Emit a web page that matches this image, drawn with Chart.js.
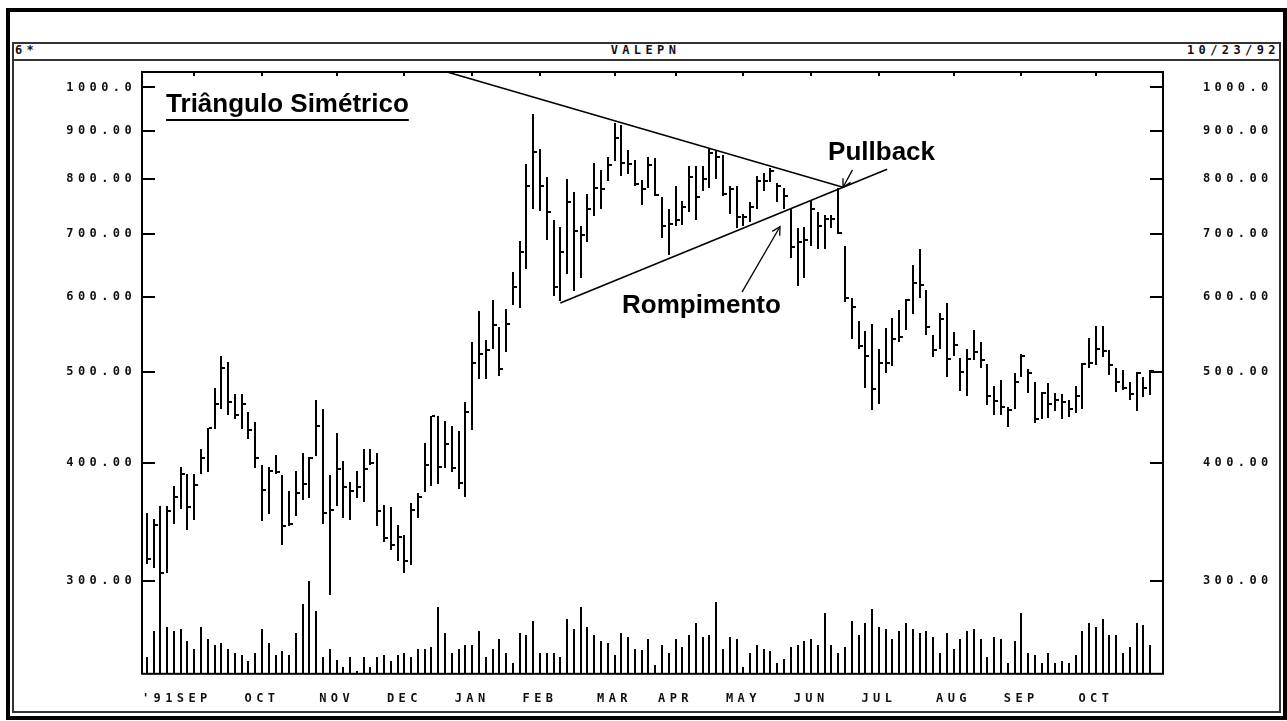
<!DOCTYPE html>
<html lang="pt">
<head>
<meta charset="utf-8">
<title>VALEPN</title>
<script src="https://cdn.jsdelivr.net/npm/chart.js@4.4.1/dist/chart.umd.min.js"></script>
<style>
html,body{margin:0;padding:0;background:#fff;}
#wrap{position:relative;width:1287px;height:721px;overflow:hidden;background:#fff;}
#outer{position:absolute;left:6px;top:8px;width:1281px;height:712px;box-sizing:border-box;border:4px solid #000;}
#inner{position:absolute;left:12px;top:42px;width:1269px;height:671px;box-sizing:border-box;border:2px solid #333;}
#hdrline{position:absolute;left:12px;top:59px;width:1269px;height:0;border-top:2px solid #333;}
.ht{position:absolute;top:44px;font:bold 12px 'DejaVu Sans Mono','Liberation Mono',monospace;letter-spacing:4.4px;color:#111;line-height:12px;white-space:pre;}
#h1{left:15px;}
#h2{left:0;width:1291px;text-align:center;}
#h3{right:7px;}
canvas{position:absolute;left:0;top:0;}
</style>
</head>
<body>
<div id="wrap">
  <div id="outer"></div>
  <div id="inner"></div>
  <div id="hdrline"></div>
  <div class="ht" id="h1">6*</div>
  <div class="ht" id="h2">VALEPN</div>
  <div class="ht" id="h3">10/23/92</div>
  <canvas id="c" width="1287" height="721"></canvas>
</div>
<script>
// ---------------- data ----------------
const months = ["'91SEP","OCT","NOV","DEC","JAN","FEB","MAR","APR","MAY","JUN","JUL","AUG","SEP","OCT"];
const monthStart = [7,17,28,38,48,58,69,78,88,98,108,119,129,140];
const priceTicks = [300,400,500,600,700,800,900,1000];

const highs = [354,349,360,360,378,396,390,390,414,436,481,519,512,474,474,453,442,398,396,408,
  389,374,392,410,406,467,456,389,430,402,382,392,414,414,410,361,359,344,336,363,
  372,420,449,449,443,438,433,464,537,580,540,595,557,583,637,687,830,938,860,803,
  724,711,799,775,714,771,832,817,845,917,913,858,838,798,845,842,765,744,786,759,
  826,826,826,860,856,849,786,786,735,756,806,812,822,793,783,744,709,711,759,738,
  732,732,783,680,598,566,552,561,528,556,570,581,597,649,674,610,547,577,591,551,
  517,529,553,538,509,483,490,459,498,522,503,488,476,486,475,474,467,483,511,543,
  559,559,527,504,502,487,499,494,502];
const lows = [313,310,300,306,345,358,340,348,390,391,435,457,450,446,435,424,395,347,353,390,
  328,343,352,366,367,407,345,290,360,350,348,367,364,398,343,330,324,315,306,312,
  350,373,378,380,395,391,376,368,434,491,491,528,495,525,588,584,643,744,740,689,
  601,594,634,608,628,686,730,744,796,836,805,809,786,751,782,767,692,664,714,715,
  738,723,777,783,799,768,735,709,714,720,744,777,794,756,744,659,616,628,680,675,
  675,709,700,593,541,528,481,455,462,498,507,537,553,576,598,547,518,528,493,520,
  477,471,514,505,461,450,450,437,456,493,475,441,445,447,454,445,448,452,456,505,
  508,518,496,476,478,467,454,470,472];
const closes = [317,344,306,356,368,390,359,379,405,436,462,504,464,450,462,434,405,375,392,391,
  343,345,372,380,405,438,354,357,394,377,374,377,394,400,356,333,328,334,315,357,
  368,398,449,396,419,395,381,453,511,522,527,560,503,561,614,670,787,854,786,738,
  614,670,756,705,697,744,782,780,828,883,832,829,790,780,827,769,714,717,723,748,
  803,765,799,852,845,771,780,729,729,747,796,796,816,787,768,678,686,689,744,714,
  726,726,701,598,586,532,520,479,511,511,541,544,596,620,618,557,527,569,516,534,
  499,516,524,514,471,466,459,455,487,520,498,446,475,462,467,464,457,471,510,511,
  529,526,508,487,480,474,498,480,501];
const volume = [1.7,4.3,9.6,4.7,4.3,4.5,3.3,2.5,4.7,3.5,2.9,3.1,2.5,2.1,1.9,1.3,2.1,4.5,3.1,1.9,
  2.3,1.9,4.1,7.1,9.4,6.3,1.7,2.5,1.4,0.7,1.7,0.3,1.7,0.7,1.7,1.9,1.3,1.9,2.1,1.7,
  2.5,2.5,2.7,6.7,4.1,2.1,2.5,2.9,2.9,4.3,1.7,2.5,3.5,2.1,1.1,4.1,3.9,5.3,2.1,2.1,
  2.1,1.7,5.5,4.5,6.7,4.7,3.9,3.3,3.1,1.9,4.1,3.7,2.5,2.4,3.5,0.9,2.9,2.1,3.5,2.7,
  3.9,5.1,3.7,3.9,7.3,2.5,3.7,3.5,0.7,2.1,2.9,2.5,2.3,1.1,1.5,2.7,2.9,3.3,3.5,2.9,
  6.1,2.9,2.1,2.7,5.3,3.9,5.1,6.5,4.7,4.5,3.5,4.3,5.1,4.5,4.1,4.3,3.7,2.1,4.1,2.5,
  3.5,4.3,4.5,3.5,1.7,3.7,3.5,1.1,3.3,6.1,2.1,1.9,1.1,2.1,1.1,1.3,1.1,1.9,4.3,5.1,
  4.7,5.5,3.9,3.9,2.1,2.7,5.1,4.9,2.9];

// trend lines (bar index, price)
const upperTrendX = [44.3, 102.7];
const upperTrendY = [1038.4, 784];
const lowerTrendX = [61, 109.2];
const lowerTrendY = [591, 819];

// annotations anchored in data space (bar index, price)
const titleText = 'Triângulo Simétrico';
const titleAt = [2.85, 942];
const pullbackText = 'Pullback';
const pullbackAt = [100.5, 837];
const pullbackArrow = [[104.1, 818], [102.7, 784]];
const rompText = 'Rompimento';
const rompAt = [70.1, 577];
const rompArrow = [[87.8, 607], [93.4, 712]];

// ---------------- chart ----------------
const X_MIN = -0.7, X_MAX = 149.9, P_MIN = 239.3, P_MAX = 1038.4, V_MAX = 60.8;
const MONO = "'DejaVu Sans Mono', 'Liberation Mono', monospace";
const ANN_FONT = "bold 26px 'Liberation Sans', Arial, sans-serif";
const idx = highs.map((_, i) => i);

const priceBars = idx.map(i => ({x: i, y: [lows[i], highs[i]]}));
const volBars = idx.map(i => ({x: i, y: volume[i]}));
const upperLine = upperTrendX.map((x, k) => ({x, y: upperTrendY[k]}));
const lowerLine = lowerTrendX.map((x, k) => ({x, y: lowerTrendY[k]}));

const fmt = v => Number(v).toFixed(v >= 1000 ? 1 : 2);

function arrow(ctx, x0, y0, x1, y1) {
  ctx.beginPath(); ctx.moveTo(x0, y0); ctx.lineTo(x1, y1); ctx.stroke();
  const a = Math.atan2(y1 - y0, x1 - x0), L = 9, w = 0.5;
  ctx.beginPath();
  ctx.moveTo(x1 - L * Math.cos(a - w), y1 - L * Math.sin(a - w));
  ctx.lineTo(x1, y1);
  ctx.lineTo(x1 - L * Math.cos(a + w), y1 - L * Math.sin(a + w));
  ctx.stroke();
}

const hlcPlugin = {
  id: 'hlc',
  beforeDraw(chart) { chart.ctx.letterSpacing = '4.4px'; },
  beforeDatasetsDraw(chart) { chart.ctx.letterSpacing = '0px'; },
  beforeDatasetDraw(chart, args) {
    // snap the library-computed bar positions to whole pixels for crisp 2px bars
    if (args.meta.type !== 'bar') return;
    args.meta.data.forEach(el => {
      el.x = Math.round(el.x);
      el.y = Math.round(el.y);
      el.base = Math.round(el.base);
    });
  },
  afterDatasetsDraw(chart) {
    const {ctx, chartArea: a, scales} = chart;
    const x = scales.x, y = scales.y;
    ctx.save();
    ctx.beginPath(); ctx.rect(a.left, a.top, a.right - a.left, a.bottom - a.top); ctx.clip();
    ctx.fillStyle = '#000';
    for (let i = 0; i < closes.length; i++) {
      const px = Math.round(x.getPixelForValue(i)), py = Math.round(y.getPixelForValue(closes[i]));
      ctx.fillRect(px + 1, py - 1, 3, 2);
    }
    ctx.restore();

    ctx.save();
    ctx.strokeStyle = '#000'; ctx.fillStyle = '#000'; ctx.lineWidth = 2;
    ctx.strokeRect(a.left, a.top, a.right - a.left, a.bottom - a.top);
    for (const v of priceTicks) {
      const py = Math.round(y.getPixelForValue(v));
      ctx.fillRect(a.left, py - 1, 13, 2);
      ctx.fillRect(a.right - 13, py - 1, 13, 2);
    }
    for (const m of monthStart) {
      const px = Math.round(x.getPixelForValue(m));
      ctx.fillRect(px - 1, a.top, 2, 4);
    }

    // annotation texts
    ctx.letterSpacing = '0px';
    ctx.font = ANN_FONT; ctx.textBaseline = 'alphabetic'; ctx.textAlign = 'left';
    const tx = x.getPixelForValue(titleAt[0]), ty = y.getPixelForValue(titleAt[1]);
    ctx.fillText(titleText, tx, ty);
    const tw = ctx.measureText(titleText).width;
    ctx.fillRect(tx, Math.round(ty) + 7, tw, 2);
    ctx.fillText(pullbackText, x.getPixelForValue(pullbackAt[0]), y.getPixelForValue(pullbackAt[1]));
    ctx.fillText(rompText, x.getPixelForValue(rompAt[0]), y.getPixelForValue(rompAt[1]));

    ctx.lineWidth = 1.3;
    arrow(ctx, x.getPixelForValue(pullbackArrow[0][0]), y.getPixelForValue(pullbackArrow[0][1]),
               x.getPixelForValue(pullbackArrow[1][0]), y.getPixelForValue(pullbackArrow[1][1]));
    arrow(ctx, x.getPixelForValue(rompArrow[0][0]), y.getPixelForValue(rompArrow[0][1]),
               x.getPixelForValue(rompArrow[1][0]), y.getPixelForValue(rompArrow[1][1]));
    ctx.restore();
  }
};

const tickFont = {family: MONO, size: 12, weight: 'bold'};
const priceAxis = (pos, width, pad) => ({
  type: 'logarithmic', position: pos, min: P_MIN, max: P_MAX, bounds: 'data',
  afterBuildTicks: s => { s.ticks = priceTicks.map(v => ({value: v})); },
  afterFit: s => { s.width = width; },
  grid: {display: false, drawTicks: false}, border: {display: false},
  ticks: {padding: pad, color: '#111', font: tickFont, callback: v => fmt(v)}
});

new Chart(document.getElementById('c'), {
  type: 'bar',
  data: {
    datasets: [
      {type: 'line', label: 'Linha superior', data: upperLine, yAxisID: 'y', borderColor: '#000',
       borderWidth: 1.6, pointRadius: 0, fill: false, tension: 0, order: 1},
      {type: 'line', label: 'Linha inferior', data: lowerLine, yAxisID: 'y', borderColor: '#000',
       borderWidth: 1.6, pointRadius: 0, fill: false, tension: 0, order: 1},
      {type: 'bar', label: 'VALEPN', data: priceBars, yAxisID: 'y', backgroundColor: '#000',
       borderWidth: 0, barThickness: 2, grouped: false, inflateAmount: 0, order: 2},
      {type: 'bar', label: 'Volume', data: volBars, yAxisID: 'yv', backgroundColor: '#000',
       borderWidth: 0, barThickness: 2, grouped: false, inflateAmount: 0, order: 3}
    ]
  },
  options: {
    responsive: false, animation: false, devicePixelRatio: 1,
    layout: {padding: {top: 72, left: 0, right: 0, bottom: 0}},
    plugins: {legend: {display: false}, tooltip: {enabled: false}, title: {display: false}},
    scales: {
      x: {
        type: 'linear', position: 'bottom', min: X_MIN, max: X_MAX, offset: false, bounds: 'data',
        afterBuildTicks: s => { s.ticks = monthStart.map(v => ({value: v})); },
        afterFit: s => { s.height = 42; },
        grid: {display: false, drawTicks: false, offset: false}, border: {display: false},
        ticks: {autoSkip: false, maxRotation: 0, minRotation: 0, padding: 18, color: '#111', font: tickFont,
          callback: v => { const k = monthStart.indexOf(v); if (k < 0) return ''; return k === 0 ? months[k] + '   ' : months[k]; }}
      },
      y: priceAxis('left', 142, 6),
      yR: priceAxis('right', 124, 40),
      yv: {type: 'linear', display: false, min: 0, max: V_MAX}
    }
  },
  plugins: [hlcPlugin]
});
</script>
</body>
</html>
